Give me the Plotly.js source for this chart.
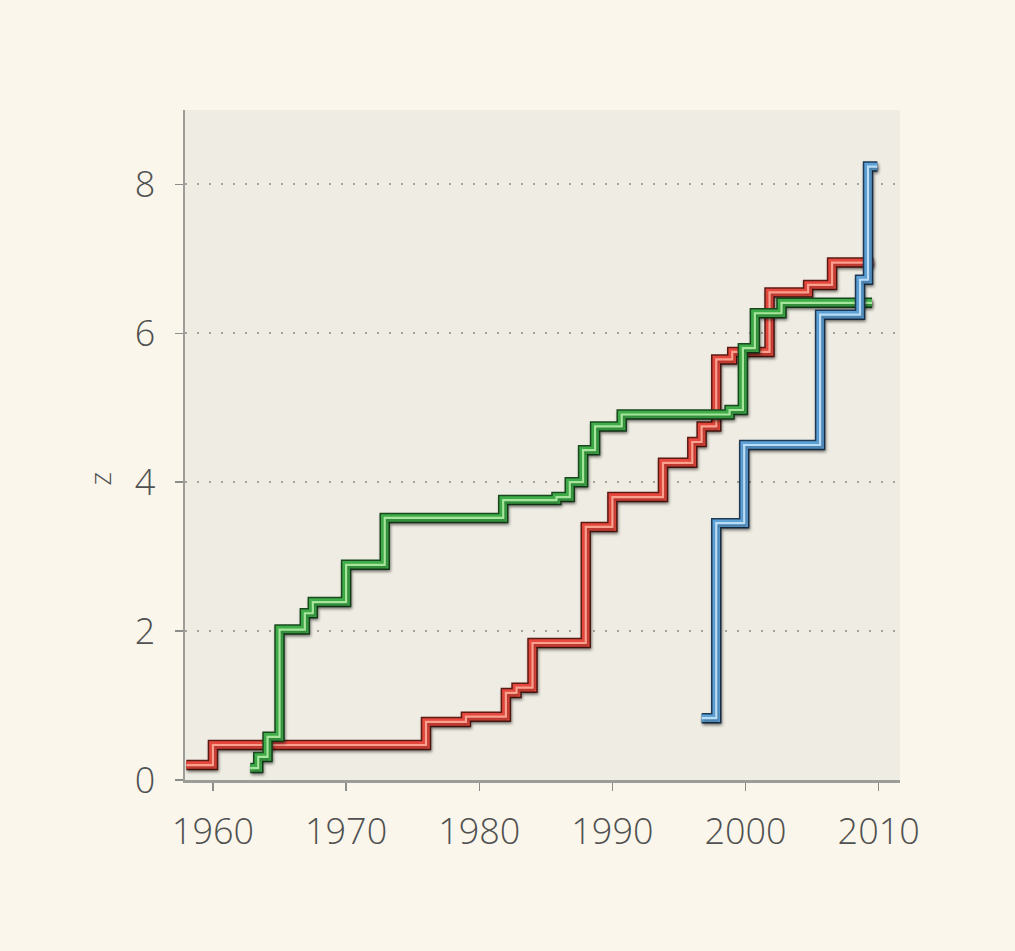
<!DOCTYPE html>
<html>
<head>
<meta charset="utf-8">
<script src="https://cdn.plot.ly/plotly-3.0.1.min.js"></script>
<style>
html,body{margin:0;padding:0;background:#faf6eb;}
#chart{width:1015px;height:951px;}
</style>
</head>
<body>
<div id="chart"></div>
<script>
// Step series: year at which the level starts, and the level
const redYears   = [1958, 1960, 1976, 1979, 1982, 1982.8, 1984, 1988, 1990, 1993.8, 1996.0, 1996.7, 1997.8, 1999, 2001.8, 2004.7, 2006.5, 2009.6];
const redZ       = [0.2, 0.47, 0.78, 0.85, 1.17, 1.24, 1.84, 3.40, 3.80, 4.26, 4.54, 4.75, 5.65, 5.75, 6.55, 6.65, 6.95, 6.95];

const greenYears = [1962.8, 1963.4, 1964.1, 1965.0, 1966.9, 1967.5, 1970.0, 1972.9, 1981.8, 1985.8, 1986.8, 1987.8, 1988.7, 1990.7, 1998.8, 1999.8, 2000.7, 2002.7, 2009.5];
const greenZ     = [0.16, 0.31, 0.58, 2.02, 2.24, 2.39, 2.89, 3.52, 3.76, 3.80, 4.00, 4.43, 4.75, 4.91, 4.97, 5.80, 6.27, 6.41, 6.41];

const blueYears  = [1996.7, 1997.8, 1999.9, 2005.6, 2008.6, 2009.2, 2009.9];
const blueZ      = [0.83, 3.45, 4.50, 6.25, 6.72, 8.24, 8.24];

const xTicks = [1960, 1970, 1980, 1990, 2000, 2010];
const yTicks = [0, 2, 4, 6, 8];
const yTitle = 'z';

function stepTraces(x, y, dark, mid, light) {
  const base = {x: x, y: y, mode: 'lines', hoverinfo: 'skip', showlegend: false};
  return [
    Object.assign({}, base, {line: {shape: 'hv', color: dark, width: 10.5}}),
    Object.assign({}, base, {line: {shape: 'hv', color: mid, width: 7.5}}),
    Object.assign({}, base, {line: {shape: 'hv', color: light, width: 2.2}})
  ];
}

const data = [].concat(
  stepTraces(redYears, redZ, '#5e1c16', '#e8483d', '#f9a08f'),
  stepTraces(greenYears, greenZ, '#1b4a20', '#3fae4a', '#a6e59b'),
  stepTraces(blueYears, blueZ, '#1f3b58', '#5ea2d8', '#b9ddf5')
);

const fontFam = '"Open Sans", "DejaVu Sans", sans-serif';

const layout = {
  width: 1015, height: 951,
  paper_bgcolor: '#faf6eb',
  plot_bgcolor: '#efede3',
  margin: {l: 185, r: 115, t: 110, b: 171},
  font: {family: fontFam, color: '#505050'},
  xaxis: {
    range: [1957.9, 2011.6],
    tickvals: xTicks,
    ticktext: xTicks.map(String),
    ticks: 'outside', ticklen: 8, tickwidth: 1.5, tickcolor: '#8c8c88',
    showline: true, linecolor: '#9c9c98', linewidth: 2.5,
    showgrid: false, zeroline: false,
    tickfont: {size: 36, color: '#505050', family: fontFam, weight: 300},
    ticklabelstandoff: 10
  },
  yaxis: {
    range: [0, 9.0],
    tickvals: yTicks,
    ticktext: yTicks.map(String),
    ticks: 'outside', ticklen: 8, tickwidth: 1.5, tickcolor: '#8c8c88',
    showline: true, linecolor: '#9c9c98', linewidth: 2.5,
    showgrid: true, gridcolor: '#a3a39c', gridwidth: 2, griddash: '2px,10px',
    zeroline: false,
    tickfont: {size: 36, color: '#505050', family: fontFam, weight: 300},
    ticklabelstandoff: 12
  },
  annotations: [{
    text: yTitle, xref: 'paper', yref: 'y', x: -0.12, y: 4.05,
    xanchor: 'center', yanchor: 'middle', textangle: -90, showarrow: false,
    font: {size: 30, color: '#505050', family: fontFam, weight: 300}
  }]
};

Plotly.newPlot('chart', data, layout, {displayModeBar: false, staticPlot: true}).then(function () {
  document.querySelectorAll('.scatterlayer .trace').forEach(function (t) {
    t.style.filter = 'drop-shadow(1.5px 2px 1.5px rgba(0,0,0,0.35))';
  });
});
</script>
</body>
</html>
